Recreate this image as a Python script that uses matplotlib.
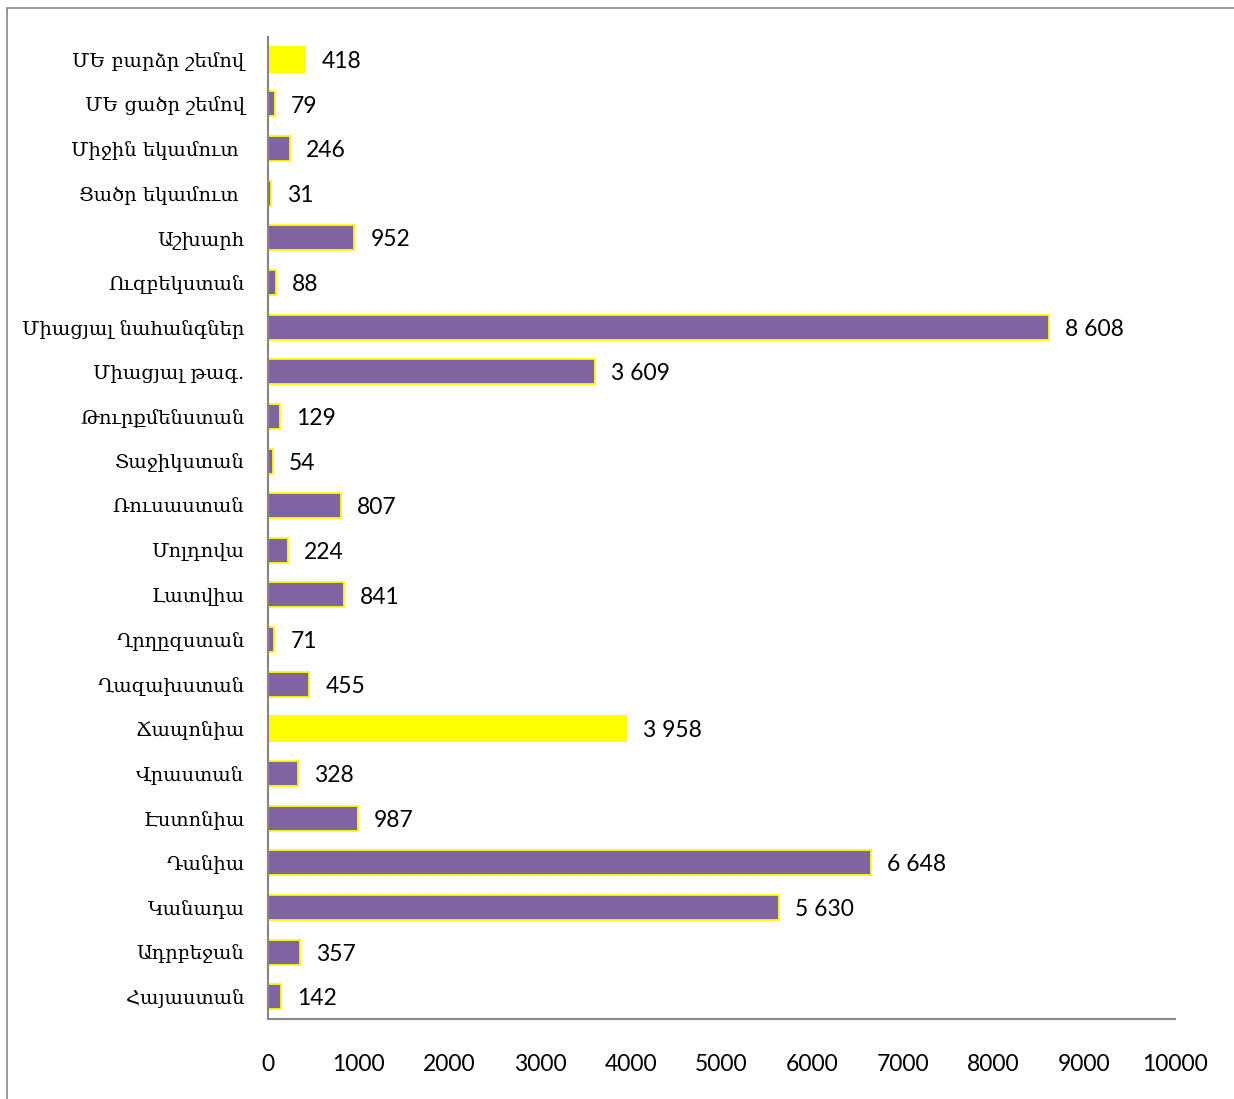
import matplotlib
matplotlib.use('Agg')
import matplotlib.pyplot as plt
from matplotlib.patches import Rectangle

# countries / groups, bottom to top
countries = ['Հայաստան', 'Ադրբեջան', 'Կանադա', 'Դանիա', 'Էստոնիա', 'Վրաստան',
             'Ճապոնիա', 'Ղազախստան', 'Ղրղըզստան', 'Լատվիա', 'Մոլդովա', 'Ռուսաստան',
             'Տաջիկստան', 'Թուրքմենստան', 'Միացյալ թագ.', 'Միացյալ նահանգներ',
             'Ուզբեկստան', 'Աշխարհ', 'Ցածր եկամուտ ', 'Միջին եկամուտ ',
             'ՄԵ ցածր շեմով', 'ՄԵ բարձր շեմով']
values = [142, 357, 5630, 6648, 987, 328, 3958, 455, 71, 841, 224, 807,
          54, 129, 3609, 8608, 88, 952, 31, 246, 79, 418]
highlight = ['Ճապոնիա', 'ՄԵ բարձր շեմով']
xticks = [0, 1000, 2000, 3000, 4000, 5000, 6000, 7000, 8000, 9000, 10000]

purple = '#8064A2'
yellow = '#FFFF00'
gray = '#868686'

fig = plt.figure(figsize=(12.34, 10.99), dpi=100)

# outer chart frame (runs off the right and bottom edges)
fig.patches.append(Rectangle((7 / 1234, -0.05), 1.1, 1 - 8 / 1099 + 0.05,
                             transform=fig.transFigure, fill=False,
                             edgecolor=gray, lw=1.2))

ax = fig.add_axes([268 / 1234, 1 - 1019 / 1099, 907 / 1234, 982 / 1099])

ypos = list(range(len(countries)))
for y, name, v in zip(ypos, countries, values):
    if name in highlight:
        ax.barh(y, v, height=0.6, color=yellow, edgecolor=yellow, lw=0)
    else:
        ax.barh(y, v, height=0.56, color=purple, edgecolor=yellow, lw=1.3)
    ax.annotate(f'{v:,}'.replace(',', ' '), (v, y), xytext=(11.5, -1.5),
                textcoords='offset points', va='center', ha='left',
                fontsize=16.5, family='Lato')

ax.set_xlim(0, 10000)
ax.set_ylim(-0.5, len(countries) - 0.5)
ax.set_yticks(ypos)
ax.set_yticklabels(countries, family='DejaVu Serif', fontsize=14)
ax.set_xticks(xticks)
ax.set_xticklabels([str(t) for t in xticks], family='Lato', fontsize=16.5)
ax.tick_params(axis='y', length=0, pad=17)
ax.tick_params(axis='x', length=0, pad=25)

for s in ['top', 'right']:
    ax.spines[s].set_visible(False)
for s in ['left', 'bottom']:
    ax.spines[s].set_color(gray)
    ax.spines[s].set_linewidth(1.5)

fig.savefig('out.png', dpi=100)
